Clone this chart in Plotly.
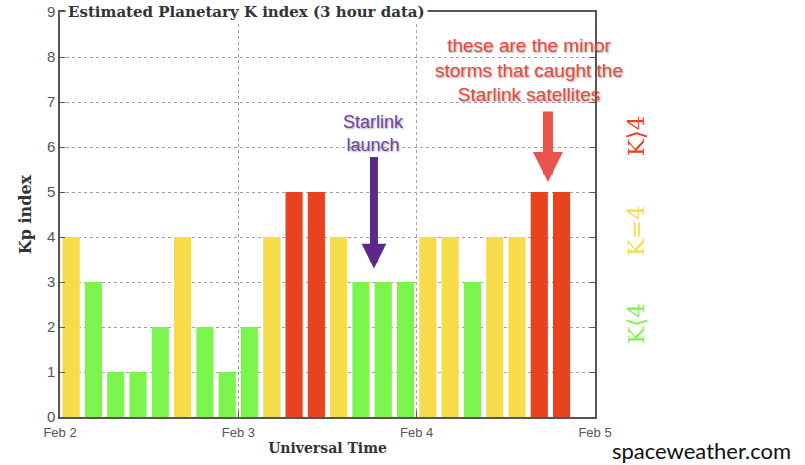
import plotly.graph_objects as go
import pandas as pd

# ---- data ----
start_time = "2022-02-02 01:30"
kp_values = [4, 3, 1, 1, 2, 4, 2, 1,
             2, 4, 5, 5, 4, 3, 3, 3,
             4, 4, 3, 4, 4, 5, 5]
x_ticks = ["2022-02-02", "2022-02-03", "2022-02-04", "2022-02-05"]
x_tick_labels = ["Feb 2", "Feb 3", "Feb 4", "Feb 5"]
y_ticks = list(range(0, 10))

GREEN = "#7CF44E"
YELLOW = "#F6DB4A"
RED = "#E8421F"

times = pd.date_range(start_time, periods=len(kp_values), freq="3h")
colors = [GREEN if v < 4 else (YELLOW if v == 4 else RED) for v in kp_values]

fig = go.Figure()
fig.add_trace(go.Bar(
    x=times, y=kp_values,
    marker=dict(color=colors, line=dict(width=0)),
    width=3 * 3600 * 1000 * 0.77,
    hoverinfo="skip",
))

axis_color = "#555555"
fig.update_layout(
    width=805, height=465,
    margin=dict(l=60, r=210, t=12, b=48, autoexpand=False),
    paper_bgcolor="white", plot_bgcolor="white",
    showlegend=False,
    font=dict(family="Liberation Sans", color="#555555", size=14),
    xaxis=dict(
        type="date", automargin=False,
        range=[x_ticks[0], x_ticks[-1]],
        tickvals=x_ticks, ticktext=x_tick_labels,
        showgrid=True, gridcolor="#a0a0a0", griddash="dot", gridwidth=1,
        showline=True, linecolor=axis_color, linewidth=1.5, mirror=True,
        ticks="inside", ticklen=6, tickcolor=axis_color,
        tickfont=dict(size=13, color="#555555"),
        ticklabelstandoff=3,
        zeroline=False,
        title=dict(text="<b>Universal Time</b>",
                   font=dict(family="DejaVu Serif", size=14, color="#333333"),
                   standoff=4),
    ),
    yaxis=dict(
        range=[0, 9], automargin=False,
        tickvals=y_ticks,
        showgrid=True, gridcolor="#a0a0a0", griddash="dot", gridwidth=1,
        showline=True, linecolor=axis_color, linewidth=1.5, mirror="ticks",
        ticks="inside", ticklen=5, tickcolor=axis_color,
        tickfont=dict(size=15, color="#555555"),
        zeroline=False,
        title=dict(text="<b>Kp index</b>",
                   font=dict(family="DejaVu Serif", size=16, color="#333333"),
                   standoff=11),
    ),
)

# chart title sitting on the top frame line
fig.add_annotation(
    xref="paper", yref="paper", x=0.009, y=1.0,
    xanchor="left", yanchor="middle",
    text="<b>Estimated Planetary K index (3 hour data)</b>",
    showarrow=False, bgcolor="white", borderpad=2,
    font=dict(family="DejaVu Serif", size=15, color="#333333"),
)

# right-side colour key
for label, col, yv in [("K⟩4", RED, 6.24), ("K=4", YELLOW, 4.13), ("K⟨4", GREEN, 2.07)]:
    fig.add_annotation(
        xref="paper", yref="y", x=1.105, y=yv,
        text=label, textangle=-90, showarrow=False,
        font=dict(family="DejaVu Serif", size=23, color=col),
    )

shadow = "1px 1px 2px rgba(0,0,0,0.35)"

# Starlink launch annotation
fig.add_annotation(
    xref="x", yref="y", x="2022-02-03 18:15", y=6.3,
    text="Starlink<br>launch", showarrow=False, yanchor="middle",
    font=dict(family="Liberation Sans", size=18, color="#6E44A6", shadow=shadow),
)
fig.add_annotation(
    xref="x", yref="y", x="2022-02-03 18:15", y=3.3,
    ax=0, ay=-113, text="", showarrow=True,
    arrowhead=2, arrowwidth=8, arrowsize=0.62, arrowcolor="#5B2A88",
)

# minor storms annotation
fig.add_annotation(
    xref="x", yref="y", x="2022-02-04 15:07", y=7.71,
    text="these are the minor<br>storms that caught the<br>Starlink satellites",
    showarrow=False, yanchor="middle",
    font=dict(family="Liberation Sans", size=19, color="#E8473F", shadow=shadow),
)
fig.add_annotation(
    xref="x", yref="y", x="2022-02-04 17:40", y=5.22,
    ax=0, ay=-72, text="", showarrow=True,
    arrowhead=2, arrowwidth=10, arrowsize=0.6, arrowcolor="#E8534A",
)

# source credit
fig.add_annotation(
    xref="paper", yref="paper", x=1.199, y=-0.0815,
    xanchor="center", yanchor="middle",
    text="spaceweather.com", showarrow=False, borderpad=0,
    font=dict(family="Lato", size=22, color="#111111"),
)

fig.write_html("out.html", config={"displayModeBar": False},
               post_script="document.body.style.margin='0';")
